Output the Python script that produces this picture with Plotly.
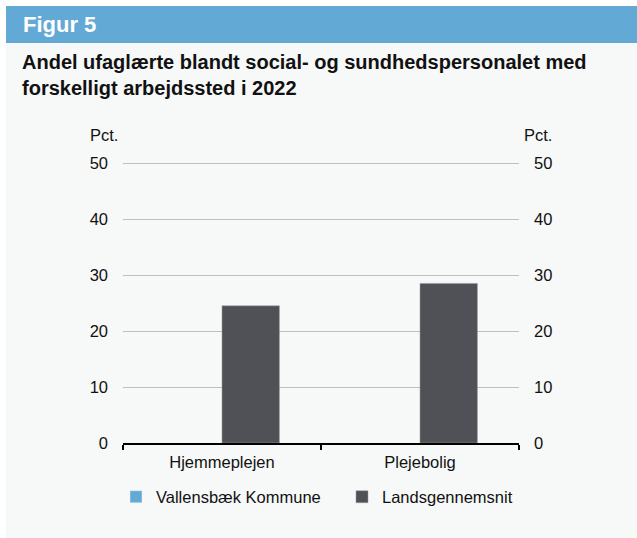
import plotly.graph_objects as go

# Data
categories = ["Hjemmeplejen", "Plejebolig"]
vallensbaek = [None, None]
landsgennemsnit = [24.5, 28.5]
y_ticks = [0, 10, 20, 30, 40, 50]

W, H = 637, 538
BLUE = "#63a9d5"
DARK = "#505156"
PANEL = "#f7f8f8"
FONT = "Liberation Sans, Arial, sans-serif"
TXT = "#111111"

# vertical scale: 5.6 px per percentage point, zero line at y=443
Y_MAX = 50.5
PX_PER_UNIT = 5.6

def px(x):
    return x / W

def py(y):
    return 1 - y / H

fig = go.Figure()
fig.add_trace(go.Bar(name="Vallensbæk Kommune", x=categories, y=vallensbaek,
                     marker_color=BLUE))
fig.add_trace(go.Bar(name="Landsgennemsnit", x=categories, y=landsgennemsnit,
                     marker=dict(color=DARK, line=dict(color="#9a9a9e", width=0.5))))
# invisible trace carrying the right-hand axis
fig.add_trace(go.Scatter(x=categories, y=[None, None], yaxis="y2", showlegend=False,
                         hoverinfo="skip"))

shapes = [
    # grey panel
    dict(type="rect", xref="paper", yref="paper", x0=px(6), x1=1.01, y0=-0.02, y1=py(6),
         fillcolor=PANEL, line_width=0, layer="below"),
    # blue header band
    dict(type="rect", xref="paper", yref="paper", x0=px(6), x1=1.01, y0=py(43), y1=py(6),
         fillcolor=BLUE, line_width=0, layer="below"),
]

annotations = [
    dict(text="<b>Figur 5</b>", x=px(21), y=py(24), xref="paper", yref="paper",
         xanchor="left", yanchor="middle", showarrow=False,
         font=dict(family=FONT, size=22, color="white")),
    dict(text="<b>Andel ufaglærte blandt social- og sundhedspersonalet med<br>"
              "forskelligt arbejdssted i 2022</b>",
         x=px(20), y=py(75), xref="paper", yref="paper", xanchor="left", yanchor="middle",
         align="left", showarrow=False,
         font=dict(family=FONT, size=20, color=TXT)),
    dict(text="Pct.", x=px(104), y=py(135), xref="paper", yref="paper",
         xanchor="center", yanchor="middle", showarrow=False,
         font=dict(family=FONT, size=16.5, color=TXT)),
    dict(text="Pct.", x=px(538), y=py(135), xref="paper", yref="paper",
         xanchor="center", yanchor="middle", showarrow=False,
         font=dict(family=FONT, size=16.5, color=TXT)),
]

tick_font = dict(family=FONT, size=16.5, color=TXT)
y_domain = [py(443), py(443 - Y_MAX * PX_PER_UNIT)]

fig.update_layout(
    width=W, height=H,
    margin=dict(l=0, r=0, t=0, b=0, autoexpand=False),
    paper_bgcolor="white",
    plot_bgcolor=PANEL,
    barmode="group",
    bargap=0.42,
    bargroupgap=0,
    shapes=shapes,
    annotations=annotations,
    font=dict(family=FONT, color=TXT),
    xaxis=dict(domain=[px(123), px(519)], type="category", automargin=False,
               showline=True, linecolor="black", linewidth=2,
               ticks="outside", tickson="boundaries", ticklen=5, tickwidth=2,
               tickcolor="black", tickfont=tick_font, showgrid=False,
               ticklabelstandoff=3),
    yaxis=dict(domain=y_domain, range=[0, Y_MAX], tickvals=y_ticks,
               automargin=False,
               showgrid=True, gridcolor="#bfbfbf", gridwidth=1, zeroline=False,
               showline=False, ticks="", tickfont=tick_font, ticklabelstandoff=14),
    yaxis2=dict(overlaying="y", side="right", range=[0, Y_MAX], tickvals=y_ticks,
                automargin=False,
                showgrid=False, zeroline=False, showline=False, ticks="",
                tickfont=tick_font, ticklabelstandoff=14),
    legend=dict(orientation="h", x=px(116), y=py(497), xanchor="left", yanchor="middle",
                entrywidth=181, entrywidthmode="pixels", bgcolor="rgba(0,0,0,0)",
                font=dict(family=FONT, size=16.5, color=TXT),
                itemwidth=30, traceorder="normal"),
    showlegend=True,
)

fig.write_html("out.html")
